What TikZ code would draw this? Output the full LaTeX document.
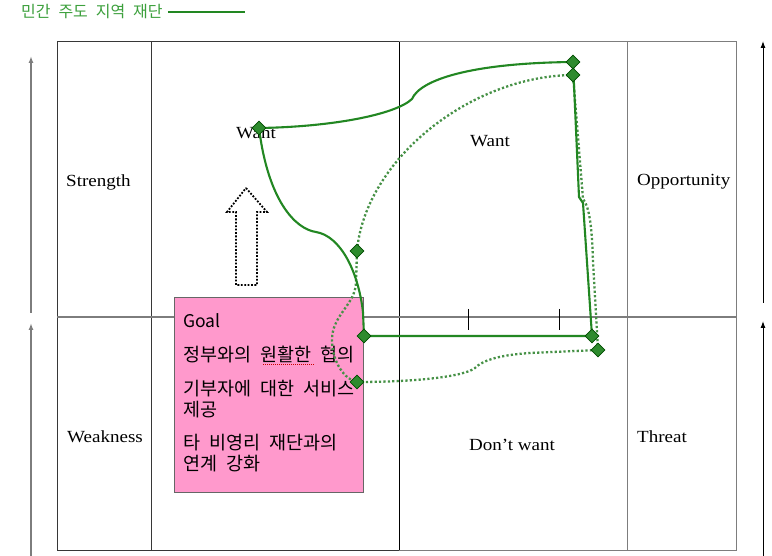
\documentclass[tikz,border=0pt]{standalone}
\usepackage{fontspec}
\usetikzlibrary{shapes.geometric,arrows.meta}
\newfontfamily\kr[WordSpace=2.2]{Noto Sans CJK KR}
\newfontfamily\lbl[FakeStretch=1.12]{Liberation Serif}
\definecolor{gline}{RGB}{34,135,34}
\definecolor{gdot}{RGB}{70,145,70}
\definecolor{gfill}{RGB}{46,139,46}
\definecolor{gtext}{RGB}{60,160,60}
\definecolor{pinkbox}{RGB}{255,153,204}
\definecolor{darkgrid}{RGB}{55,55,55}
\definecolor{lightgrid}{RGB}{125,125,125}
\tikzset{
  solidg/.style={draw=gline,line width=2.1pt,line join=round},
  dotg/.style={draw=gdot,line width=2.3pt,dash pattern=on 2.2pt off 2.2pt},
  dia/.style={diamond,draw=green!30!black,fill=gfill,line width=0.6pt,minimum size=14pt,inner sep=0pt},
  lab/.style={font=\lbl\fontsize{17}{19}\selectfont,text=black,inner sep=0pt},
  krtext/.style={font=\kr\fontsize{18.5}{21}\selectfont,anchor=west,inner sep=0pt,text=black},
  sidearrow/.style={line width=1pt,-{Latex[length=7pt,width=5pt]}},
}
\begin{document}
\begin{tikzpicture}[x=1pt,y=-1pt]
\useasboundingbox (0,0) rectangle (772,556);
\fill[white] (0,0) rectangle (772,556);
% grid
\draw[lightgrid,line width=1pt] (399,42) -- (736,42) -- (736,550) -- (399,550);
\draw[lightgrid,line width=1pt] (627,42) -- (627,550);
\draw[darkgrid,line width=1pt] (399,42) -- (57,42) -- (57,550) -- (399,550);
\draw[darkgrid,line width=1pt] (151,42) -- (151,550);
\draw[black,line width=0.9pt] (399,42) -- (399,550);
\draw[lightgrid,line width=1.6pt] (57,317) -- (736,317);
\draw[black,line width=0.8pt] (468,309) -- (468,330);
\draw[black,line width=0.8pt] (559,309) -- (559,330);
% side arrows
\coordinate (la1) at (31,313); \coordinate (la2) at (31,56);
\coordinate (lb1) at (31,556); \coordinate (lb2) at (31,323);
\coordinate (ra1) at (763,303); \coordinate (ra2) at (763,41);
\coordinate (rb1) at (763,556); \coordinate (rb2) at (763,321);
\draw[sidearrow,lightgrid,line width=1.4pt] (la1) -- (la2);
\draw[sidearrow,lightgrid,line width=1.4pt] (lb1) -- (lb2);
\draw[sidearrow,black] (ra1) -- (ra2);
\draw[sidearrow,black] (rb1) -- (rb2);
% hollow dotted arrow
\draw[black,line width=1.8pt,dash pattern=on 1.8pt off 1.6pt,fill=white]
  (246,188) -- (267,212) -- (257,212) -- (257,285) -- (236,285) -- (236,212) -- (227,212) -- cycle;
% header
\node[font=\kr\fontsize{16}{19}\selectfont,text=gtext,anchor=west,inner sep=0pt] (hdr) at (21,12) {민간 주도 지역 재단};
\coordinate (hend) at (245,12);
\draw[gline,line width=2.4pt] ([xshift=5pt]hdr.east) -- (hend);
% labels
\node[lab,anchor=west] (str) at (66,182) {Strength};
\node[lab,anchor=west] (weak) at (67,437) {Weakness};
\node[lab,anchor=west] (opp) at (637,182) {Opportunity};
\node[lab,anchor=west] (thr) at (637,437) {Threat};
\node[lab] (want1) at (490,141) {Want};
\node[lab] (want2) at (256,133) {Want};
\node[lab] (dont) at (512,445) {Don’t want};
% goal box
\node[draw=black!60,line width=0.8pt,fill=pinkbox,minimum width=189pt,minimum height=195pt,anchor=north west,inner sep=0pt] (goal) at (174,297) {};
\node[krtext,font=\kr\fontsize{17.5}{20}\selectfont] (g0) at (183,321) {Goal};
\node[krtext] (g1) at (183,355) {정부와의 원활한 협의};
\node[krtext,align=left] (g2) at (183,399) {기부자에 대한 서비스\\제공};
\node[krtext,align=left] (g3) at (183,453) {타 비영리 재단과의\\연계 강화};
\draw[red!80!black,line width=0.7pt,dash pattern=on 1pt off 1pt] (263,364) -- (314,364);
% path points
\coordinate (d1) at (259,128);
\coordinate (d2) at (573,62);
\coordinate (d3) at (592,336);
\coordinate (d4) at (364,336);
\coordinate (e1) at (573,75);
\coordinate (e2) at (357,251);
\coordinate (e3) at (357,382);
\coordinate (e4) at (598,350);
% dotted path
\draw[dotg] (e1) .. controls (470,76) and (365,160) .. (e2)
  -- (356,283) .. controls (355,305) and (332,315) .. (332,340)
  .. controls (332,362) and (345,380) .. (e3);
\draw[dotg] (e3) .. controls (420,382) and (465,376) .. (475,368)
  .. controls (483,360) and (500,355) .. (530,353) -- (e4);
\draw[dotg] (e4) -- (593,262) .. controls (592,225) and (589,206) .. (583,199) -- (e1);
% solid path
\draw[solidg] (d1) .. controls (330,127) and (395,115) .. (412,99)
  .. controls (420,80) and (470,63) .. (d2)
  -- (579,197) -- (583,203) -- (d3) -- (d4) -- (363,312)
  .. controls (358,270) and (340,236) .. (316,232)
  .. controls (295,229) and (268,200) .. (d1);
% diamonds
\foreach \p in {d1,d2,d3,d4,e1,e2,e3,e4}{
  \node[dia] (m\p) at (\p) {};
}
\end{tikzpicture}
\end{document}
